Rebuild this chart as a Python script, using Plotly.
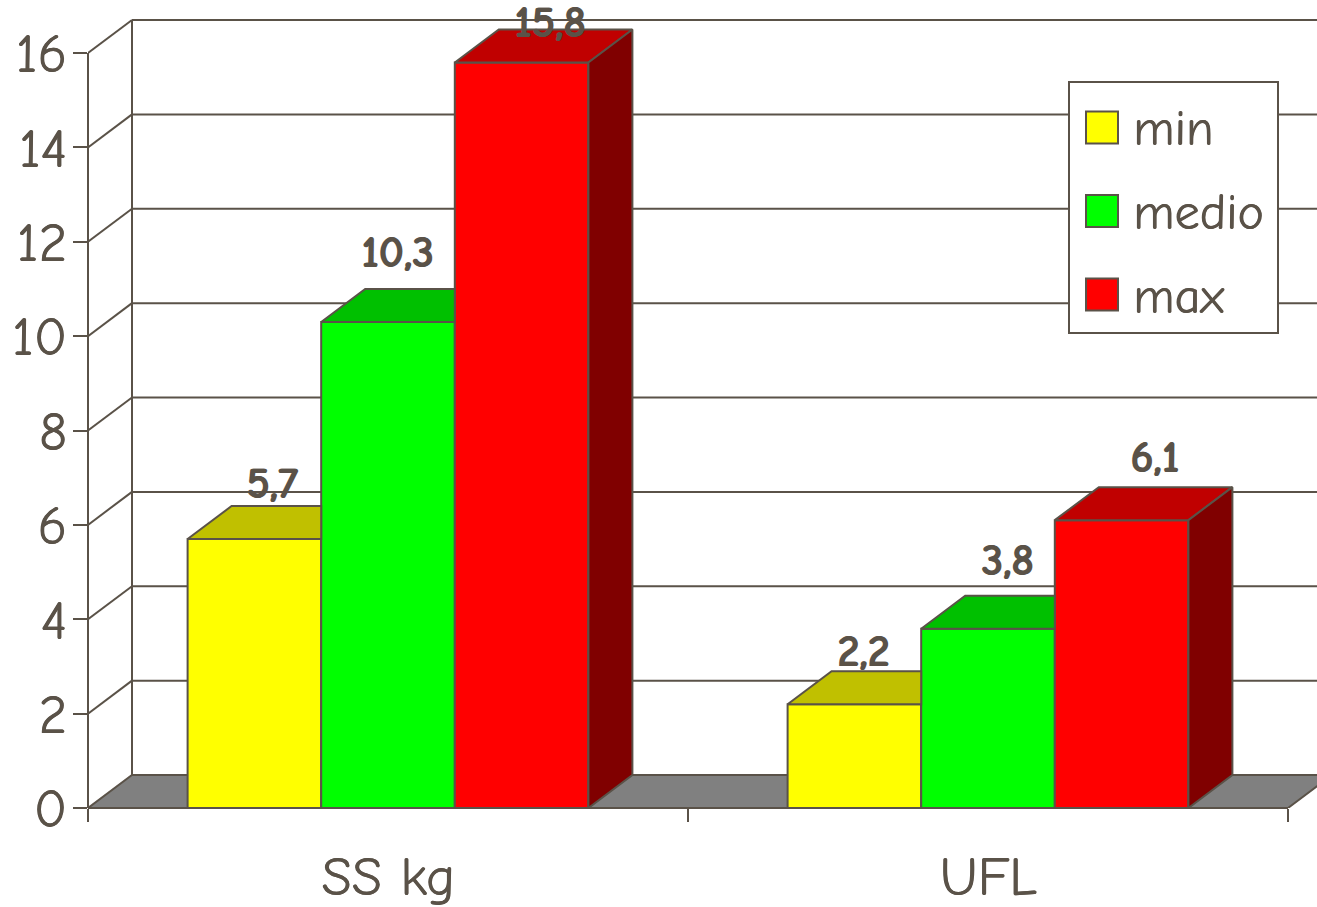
import plotly.graph_objects as go

categories = ["SS kg", "UFL"]
category_centres = [0.5, 1.5]
series_names = ["min", "medio", "max"]
min_values = [5.7, 2.2]
medio_values = [10.3, 3.8]
max_values = [15.8, 6.1]
y_ticks = [0, 2, 4, 6, 8, 10, 12, 14, 16]

series_values = [min_values, medio_values, max_values]
front = ["#ffff00", "#00ff00", "#ff0000"]
top = ["#c0c000", "#00c000", "#c00000"]
side = "#800000"
ink = "#5a5248"
font = "Comic Sans MS, Comic Neue, Lato, sans-serif"
thick = f"0.6px 0 0 {ink}"
thicker = f"1px 0 0 {ink}"

W, H = 1317, 907
L, B = 88, 99
PX_X = 600.0          # pixels per category
PX_Y = 755.0 / 16     # pixels per value unit
DX = 44 / PX_X        # depth in x units
DY = 33 / PX_Y        # depth in y units
GAP = 0.332
BW = (1 - GAP) / 3
x_max = (W - L) / PX_X
y_max = (H - B) / PX_Y

fig = go.Figure()
for i, (name, vals) in enumerate(zip(series_names, series_values)):
    fig.add_bar(x=category_centres, y=vals, name=name, showlegend=False,
                marker=dict(color=front[i], line=dict(color=ink, width=2)))

def poly(xs, ys, color):
    fig.add_scatter(x=xs, y=ys, mode="lines", fill="toself", fillcolor=color,
                    line=dict(color=ink, width=2), hoverinfo="skip", showlegend=False)

# Label offsets in pixels, relative to the centre of each bar's top face
label_shift = [[(-4, 23), (-13, 36), (6, 7)],
               [(-13, 20), (-3, 35), (11, 30)]]

annotations = []
for c, cx in enumerate(category_centres):
    for i, vals in enumerate(series_values):
        v = vals[c]
        x0 = cx + (i - 1.5) * BW
        x1 = x0 + BW
        # top face; only the last bar shows its full depth, others stop at the neighbour
        xr = x1 + DX if i == 2 else x1
        poly([x0, x0 + DX, xr, x1 if i == 2 else xr, x0],
             [v, v + DY, v + DY, v, v], top[i])
        if i == 2:
            poly([x1, x1 + DX, x1 + DX, x1, x1], [0, DY, v + DY, v, 0], side)
        sx, sy = label_shift[c][i]
        annotations.append(dict(
            x=x0 + BW / 2 + DX / 2, y=v + DY, xref="x", yref="y", xshift=sx, yshift=sy,
            text=f"{v:.1f}".replace(".", ","), showarrow=False,
            font=dict(family=font, size=44, color=ink, weight="bold", shadow=thicker)))

line = dict(color=ink, width=2)
shapes = []
# floor
shapes.append(dict(type="path", layer="below", xref="x", yref="y", line=line, fillcolor="#808080",
                   path=f"M 0 0 L {DX} {DY} L {2 + DX} {DY} L 2 0 Z"))
# walls and grid
shapes.append(dict(type="line", layer="below", xref="x", yref="y", x0=DX, x1=DX, y0=DY, y1=y_ticks[-1] + DY, line=line))
for t in y_ticks:
    if t > 0:
        shapes.append(dict(type="line", layer="below", xref="x", yref="y",
                           x0=0, x1=DX, y0=t, y1=t + DY, line=line))
        shapes.append(dict(type="line", layer="below", xref="x", yref="y",
                           x0=DX, x1=x_max + 0.1, y0=t + DY, y1=t + DY, line=line))
# axis lines: paper-referenced so they are not clipped at the plot edge
shapes.append(dict(type="line", layer="below", xref="paper", yref="paper",
                   x0=0, x1=0, y0=0, y1=y_ticks[-1] / y_max, line=line))
shapes.append(dict(type="line", layer="above", xref="paper", yref="paper",
                   x0=0, x1=2 / x_max, y0=0, y1=0, line=line))

# legend box (paper coordinates span the plot area)
def px(x): return (x - L) / (W - L)
def py(y): return 1 - y / (H - B)
shapes.append(dict(type="rect", xref="paper", yref="paper", x0=px(1069), x1=px(1278), y0=py(333), y1=py(82),
                   fillcolor="white", line=line, layer="above"))
for i, (name, yc) in enumerate(zip(series_names, [127.5, 211, 294.5])):
    shapes.append(dict(type="rect", xref="paper", yref="paper", x0=px(1086), x1=px(1118),
                       y0=py(yc + 16), y1=py(yc - 16), fillcolor=front[i], line=line, layer="above"))
    annotations.append(dict(x=px(1131), y=py(yc + 2), xref="paper", yref="paper", xanchor="left", yanchor="middle",
                            text=name, showarrow=False, font=dict(family=font, size=50, color=ink, shadow=thick)))

fig.update_layout(
    width=W, height=H, margin=dict(l=L, r=0, t=0, b=B, pad=0, autoexpand=False), autosize=False,
    paper_bgcolor="white", plot_bgcolor="rgba(0,0,0,0)", barmode="group", bargap=GAP, bargroupgap=0,
    shapes=shapes, annotations=annotations, showlegend=False,
    xaxis=dict(automargin=False, range=[0, x_max], tickmode="array", tickvals=category_centres, ticktext=categories,
               ticks="", showgrid=False, zeroline=False, showline=False,
               tickfont=dict(family=font, size=55, color=ink, shadow=thick), ticklabelstandoff=31,
               minor=dict(tickmode="array", tickvals=[0, 1, 2], ticks="outside", ticklen=13, tickwidth=2, tickcolor=ink, showgrid=False)),
    yaxis=dict(automargin=False, range=[0, y_max], tickmode="array", tickvals=y_ticks, ticks="outside", ticklen=14, tickwidth=2, tickcolor=ink,
               showgrid=False, zeroline=False, showline=False, tickfont=dict(family=font, size=55, color=ink, shadow=thick), ticklabelstandoff=-5),
)
fig.write_html("out.html", config=dict(displayModeBar=False), post_script="document.body.style.margin='0';")
